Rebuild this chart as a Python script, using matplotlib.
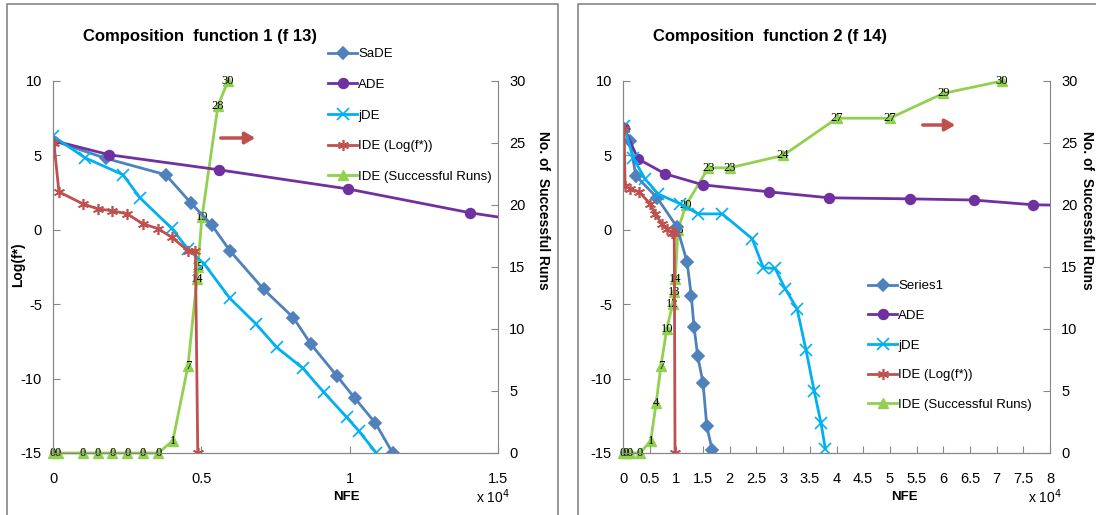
import matplotlib
matplotlib.use("Agg")
import matplotlib.pyplot as plt
from matplotlib.patches import Rectangle

# NFE values are in units of 10^4
# ---- Composition function 1 (f 13) ----
f13_sade_x = [0, 0.178, 0.38, 0.465, 0.536, 0.596, 0.71, 0.81, 0.87, 0.956, 1.017, 1.087, 1.145]
f13_sade_y = [6.0, 4.8, 3.7, 1.8, 0.3, -1.4, -4.0, -5.9, -7.7, -9.8, -11.3, -13.0, -15.0]
f13_ade_x = [0, 0.19, 0.56, 0.993, 1.407, 1.82]
f13_ade_y = [6.0, 5.04, 4.03, 2.75, 1.14, -0.1]
f13_jde_x = [0, 0.108, 0.236, 0.293, 0.40, 0.455, 0.51, 0.596, 0.683, 0.754, 0.842, 0.912, 0.99, 1.03, 1.09]
f13_jde_y = [6.3, 4.84, 3.7, 2.15, 0.1, -1.3, -2.3, -4.6, -6.3, -7.9, -9.3, -10.9, -12.6, -13.5, -15.0]
f13_ide_x = [0.003, 0.02, 0.1, 0.152, 0.2, 0.25, 0.303, 0.355, 0.4, 0.455, 0.48, 0.488]
f13_ide_y = [5.85, 2.55, 1.75, 1.4, 1.28, 1.07, 0.4, 0.07, -0.5, -1.4, -1.4, -15.0]
f13_runs_x = [0, 0.017, 0.1, 0.152, 0.2, 0.25, 0.303, 0.355, 0.404, 0.455, 0.485, 0.488, 0.502, 0.556, 0.59]
f13_runs = [0, 0, 0, 0, 0, 0, 0, 0, 1, 7, 14, 15, 19, 28, 30]

# ---- Composition function 2 (f 14) ----
f14_s1_x = [0.02, 0.13, 0.24, 0.64, 1.01, 1.2, 1.28, 1.33, 1.4, 1.5, 1.57, 1.67]
f14_s1_y = [6.8, 6.0, 3.63, 2.15, 0.2, -2.15, -4.43, -6.5, -8.5, -10.3, -13.2, -14.8]
f14_ade_x = [0.02, 0.28, 0.79, 1.5, 2.74, 3.86, 5.37, 6.57, 7.69, 8.3]
f14_ade_y = [6.85, 4.77, 3.76, 3.02, 2.55, 2.15, 2.08, 2.0, 1.68, 1.65]
f14_jde_x = [0.02, 0.19, 0.41, 0.66, 1.07, 1.41, 1.86, 2.42, 2.63, 2.85, 3.04, 3.26, 3.43, 3.58, 3.71, 3.79]
f14_jde_y = [7.0, 4.84, 3.43, 2.4, 1.75, 1.07, 1.07, -0.6, -2.55, -2.6, -3.97, -5.3, -8.1, -10.8, -13.0, -14.7]
f14_ide_x = [0.02, 0.04, 0.13, 0.3, 0.51, 0.6, 0.73, 0.83, 0.92, 0.96, 0.975]
f14_ide_y = [6.8, 2.96, 2.75, 2.55, 1.75, 1.07, 0.4, 0.07, -0.2, -0.2, -15.0]
f14_runs_x = [0, 0.05, 0.13, 0.32, 0.52, 0.62, 0.71, 0.82, 0.93, 0.96, 0.98, 1.03, 1.18, 1.6, 2.0, 3.0, 4.01, 5.0, 6.0, 7.1]
f14_runs = [0, 0, 0, 0, 1, 4, 7, 10, 12, 13, 14, 18, 20, 23, 23, 24, 27, 27, 29, 30]

C_SADE = "#4F81BD"
C_ADE = "#7030A0"
C_JDE = "#00B0F0"
C_IDE = "#C0504D"
C_RUNS = "#92D050"
GREY = "#868686"

plt.rcParams["font.family"] = ["Liberation Sans Narrow", "Liberation Sans", "DejaVu Sans"]
plt.rcParams["axes.unicode_minus"] = False

W, H = 1096, 515
fig = plt.figure(figsize=(W / 100, H / 100), dpi=100)


def px(x, y):
    return x / W, 1 - y / H


# panel frames
for x0, x1 in [(7, 558), (578, 1110)]:
    fig.patches.append(Rectangle(px(x0, 530), (x1 - x0) / W, 526 / H, transform=fig.transFigure,
                                 fill=False, edgecolor=GREY, lw=1.2))


def draw_panel(left, right, xmax, xticks, series, runs_x, runs, title, legend_pos, legend_space, arrow):
    x0, y0 = px(left, 453)
    ax = fig.add_axes([x0, y0, (right - left) / W, (453 - 81) / H])
    ax2 = ax.twinx()
    ax.set_zorder(ax2.get_zorder() + 1)
    ax.patch.set_visible(False)

    handles = []
    for xs, ys, color, marker, ms, label in series:
        h, = ax.plot(xs, ys, color=color, lw=2.0, marker=marker, ms=ms, mew=1.2, label=label)
        handles.append(h)
    h, = ax2.plot(runs_x, runs, color=C_RUNS, lw=2.0, marker="^", ms=7, label="IDE (Successful Runs)",
                  clip_on=False)
    handles.append(h)
    for xv, rv in zip(runs_x, runs):
        ax2.text(xv, rv, str(rv), ha="center", va="center", fontsize=9,
                 family=["Liberation Serif", "DejaVu Serif"], zorder=5)

    ax.set_xlim(0, xmax)
    ax.set_ylim(-15, 10)
    ax2.set_ylim(0, 30)
    ax.set_xticks(xticks)
    ax.set_xticklabels([f"{t:g}" for t in xticks])
    ax.set_yticks(range(-15, 11, 5))
    ax2.set_yticks(range(0, 31, 5))

    for a in (ax, ax2):
        for s in a.spines.values():
            s.set_color(GREY)
        a.spines["top"].set_visible(False)
        a.tick_params(direction="in", length=5, color=GREY, labelsize=10.5, pad=8)
    ax.spines["right"].set_visible(False)
    ax.tick_params(axis="x", pad=14)

    fig.text(*px(left + 30, 37), title, fontsize=12, fontweight="bold", va="center")
    fig.legend(handles=handles, loc="upper left", bbox_to_anchor=px(*legend_pos), frameon=False,
               fontsize=9.5, handlelength=2.2, handletextpad=0.1, labelspacing=legend_space,
               borderaxespad=0, borderpad=0)
    fig.text(*px(left + (right - left) * 0.66, 497), "NFE", fontsize=9.5, fontweight="bold",
             ha="center", va="center")
    fig.text(*px(right + 12, 497), r"x 10$^4$", fontsize=10, ha="right", va="center")
    ax.annotate("", xy=px(arrow[1], arrow[2]), xytext=px(arrow[0], arrow[2]),
                xycoords="figure fraction", textcoords="figure fraction",
                arrowprops=dict(arrowstyle="-|>,head_length=0.6,head_width=0.35", color=C_IDE, lw=2.5))
    return ax


series13 = [
    (f13_sade_x, f13_sade_y, C_SADE, "D", 6, "SaDE"),
    (f13_ade_x, f13_ade_y, C_ADE, "o", 7, "ADE"),
    (f13_jde_x, f13_jde_y, C_JDE, "x", 8, "jDE"),
    (f13_ide_x, f13_ide_y, C_IDE, (6, 2, 0), 8, "IDE (Log(f*))"),
]
series14 = [
    (f14_s1_x, f14_s1_y, C_SADE, "D", 6, "Series1"),
    (f14_ade_x, f14_ade_y, C_ADE, "o", 7, "ADE"),
    (f14_jde_x, f14_jde_y, C_JDE, "x", 8, "jDE"),
    (f14_ide_x, f14_ide_y, C_IDE, (6, 2, 0), 8, "IDE (Log(f*))"),
]

draw_panel(53, 498, 1.5, [0, 0.5, 1, 1.5], series13, f13_runs_x, f13_runs,
           "Composition  function 1 (f 13)", (328, 48), 1.40, (218, 258, 138))
draw_panel(623, 1050, 8, [i * 0.5 for i in range(17)], series14, f14_runs_x, f14_runs,
           "Composition  function 2 (f 14)", (868, 280), 1.32, (920, 958, 125))

fig.text(*px(18, 265), "Log(f*)", rotation=90, fontsize=10, fontweight="bold", ha="center", va="center")
fig.text(*px(543, 210), "No. of  Successful Runs", rotation=-90, fontsize=10, fontweight="bold",
         ha="center", va="center")
fig.text(*px(1087, 210), "No. of  Successful Runs", rotation=-90, fontsize=10, fontweight="bold",
         ha="center", va="center")

fig.savefig("out.png", dpi=100)
